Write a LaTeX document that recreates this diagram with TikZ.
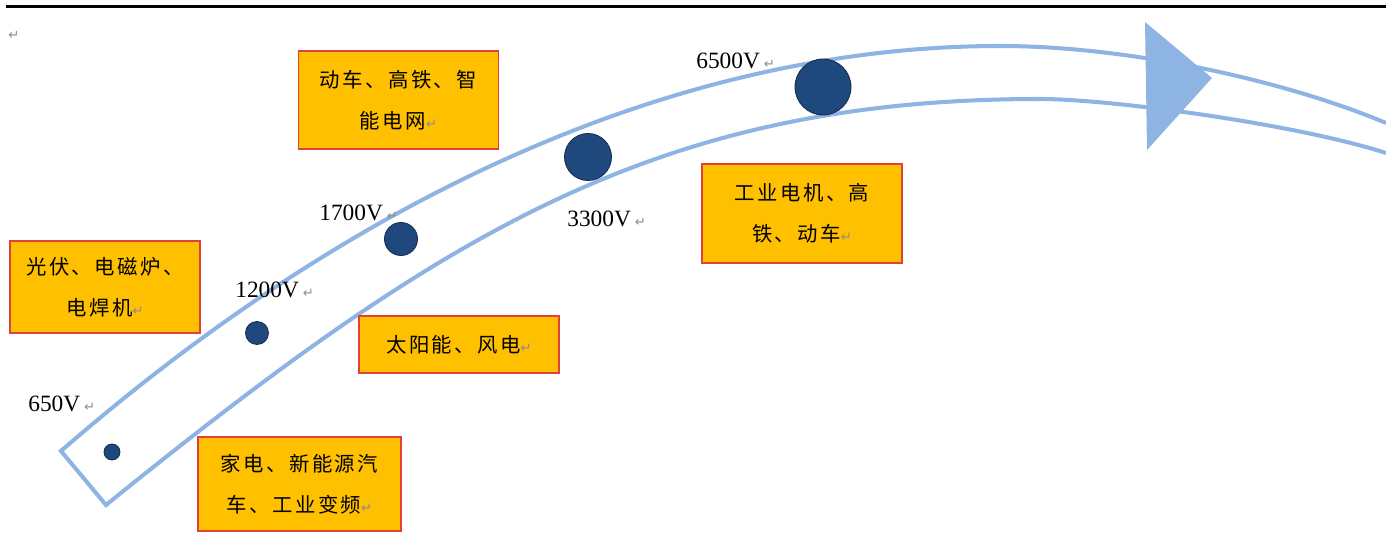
\documentclass[tikz,border=0pt]{standalone}
\usepackage{fontspec}
\setmainfont{Liberation Serif}
\newfontfamily\cjk{Noto Sans CJK SC}[LetterSpace=12]
\newfontfamily\symf{DejaVu Sans}
\definecolor{bandblue}{HTML}{8EB4E3}
\definecolor{dotblue}{HTML}{1F497D}
\definecolor{dotedge}{HTML}{142F52}
\definecolor{boxorange}{HTML}{FFC000}
\definecolor{boxred}{HTML}{E0413A}
\definecolor{markgray}{HTML}{8A8C96}
\newcommand{\pmark}{{\symf\fontsize{7.5}{7.5}\selectfont\color{markgray}↵}}
\begin{document}
\begin{tikzpicture}[x=0.02cm,y=-0.02cm,
  band/.style={draw=bandblue, line width=2.3pt},
  dot/.style={circle, fill=dotblue, draw=dotedge, line width=0.5pt, inner sep=0pt},
  appbox/.style={rectangle, fill=boxorange, draw=boxred, line width=0.9pt, align=center, inner sep=0pt, font=\cjk\fontsize{11.6}{23.2}\selectfont},
  volt/.style={inner sep=0pt, anchor=base west, font=\fontsize{13.3}{16}\selectfont}]
\useasboundingbox (0,0) rectangle (1386,533);
% top rule
\draw[line width=1.2pt] (6,6.5) -- (1386,6.5);
\node[inner sep=0pt] (topmark) at (14,35) {\pmark};
% curved band arrow
\coordinate (ua) at (61,451);
\coordinate (la) at (106,505);
\draw[band] (ua) .. controls (376,177) and (700,46) .. (1000,46)
  .. controls (1130,46) and (1286,81) .. (1386,123);
\draw[band] (la) .. controls (446,230) and (660,99) .. (1040,99)
  .. controls (1110,99) and (1296,124) .. (1386,153);
\draw[band, line cap=rect] (ua) -- (la);
\fill[bandblue] (1145,22) -- (1212,78) -- (1147,150) -- cycle;
% dots
\node[dot, minimum size=0.32cm] (d650) at (112,452) {};
\node[dot, minimum size=0.46cm] (d1200) at (257,333) {};
\node[dot, minimum size=0.66cm] (d1700) at (401,239) {};
\node[dot, minimum size=0.94cm] (d3300) at (588,157) {};
\node[dot, minimum size=1.12cm] (d6500) at (823,87) {};
% voltage labels
\node[volt] (v650) at (28,412) {650V\,\pmark};
\node[volt] (v1200) at (235,298) {1200V\,\pmark};
\node[volt] (v1700) at (319,221) {1700V\,\pmark};
\node[volt] (v3300) at (567,227) {3300V\,\pmark};
\node[volt] (v6500) at (696,69) {6500V\,\pmark};
% application boxes
\node[appbox, minimum width=4cm, minimum height=1.96cm] (b1) at (398.5,100) {动车、高铁、智\\能电网\pmark};
\node[appbox, minimum width=3.8cm, minimum height=1.84cm] (b2) at (105,287) {光伏、电磁炉、\\电焊机\pmark};
\node[appbox, minimum width=4cm, minimum height=1.14cm] (b3) at (459,344.5) {太阳能、风电\pmark};
\node[appbox, minimum width=4.06cm, minimum height=1.88cm] (b4) at (299.5,484) {家电、新能源汽\\车、工业变频\pmark};
\node[appbox, minimum width=4cm, minimum height=1.98cm] (b5) at (802,213.5) {工业电机、高\\铁、动车\pmark};
\end{tikzpicture}
\end{document}
